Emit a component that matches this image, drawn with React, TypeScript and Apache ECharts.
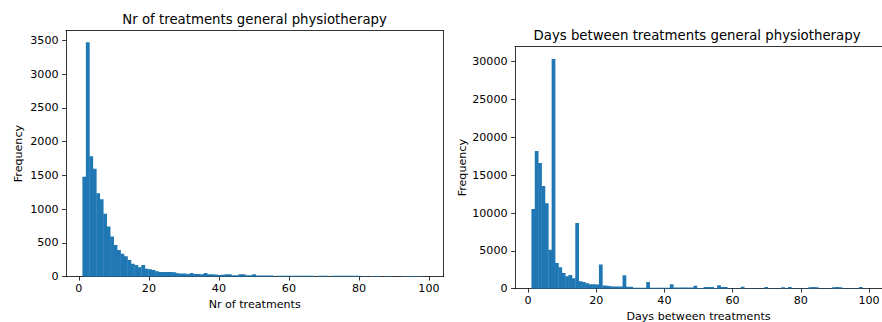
import React, { useEffect, useRef } from "react";
import * as echarts from "echarts";

// Histogram 1: Nr of treatments (bins for values 1..100)
const leftBinMin = 1;
const leftBinMax = 100;
const leftCounts = [
  1481, 3470, 1782, 1599, 1234, 1145, 933, 745, 597, 469,
  395, 340, 301, 247, 190, 173, 140, 173, 116, 112,
  99, 80, 70, 70, 68, 68, 66, 50, 49, 48,
  40, 54, 40, 40, 38, 54, 36, 35, 34, 25,
  30, 35, 35, 22, 22, 35, 35, 20, 20, 35,
  18, 18, 17, 17, 16, 0, 15, 15, 15, 15,
  15, 15, 15, 15, 15, 15, 14, 0, 14, 14,
  14, 0, 13, 13, 13, 13, 13, 13, 13, 13,
  0, 10, 0, 12, 12, 12, 0, 11, 11, 0,
  0, 0, 10, 10, 10, 10, 10, 10, 0, 0,
];

// Histogram 2: Days between treatments (bins for values 1..100)
const rightBinMin = 1;
const rightBinMax = 100;
const rightCounts = [
  10530, 18194, 16608, 13568, 11278, 5154, 30352, 3392, 2819, 2070,
  1630, 1806, 1366, 8678, 969, 881, 705, 573, 573, 560,
  3210, 420, 400, 308, 300, 300, 300, 1761, 264, 264,
  132, 132, 132, 132, 880, 132, 132, 132, 132, 132,
  132, 573, 150, 150, 150, 150, 150, 150, 400, 100,
  100, 230, 230, 230, 100, 440, 220, 220, 30, 30,
  30, 30, 264, 30, 30, 30, 30, 30, 30, 220,
  30, 30, 30, 30, 200, 30, 220, 30, 30, 30,
  30, 30, 200, 220, 200, 30, 30, 30, 30, 200,
  220, 200, 30, 30, 30, 30, 30, 220, 30, 30,
];

const xTicks = [0, 20, 40, 60, 80, 100];
const leftYTicks = [0, 500, 1000, 1500, 2000, 2500, 3000, 3500];
const rightYTicks = [0, 5000, 10000, 15000, 20000, 25000, 30000];

const leftTitle = "Nr of treatments general physiotherapy";
const rightTitle = "Days between treatments general physiotherapy";
const leftXName = "Nr of treatments";
const rightXName = "Days between treatments";
const yName = "Frequency";

const FONT = "DejaVu Sans";
const BAR = "#1f77b4";
const INK = "#000000";
const SMALL = 11.1;
const BIG = 13.3;

function toBins(counts: number[], lo: number, hi: number) {
  const w = (hi - lo) / counts.length;
  return counts.map((c, i) => [lo + w * i, lo + w * (i + 1), c]);
}

const renderBar = (params: any, api: any) => {
  const x0 = api.value(0);
  const x1 = api.value(1);
  const v = api.value(2);
  const p0 = api.coord([x0, v]);
  const p1 = api.coord([x1, 0]);
  return {
    type: "rect",
    shape: { x: p0[0], y: p0[1], width: p1[0] - p0[0] + 0.35, height: p1[1] - p0[1] },
    style: { fill: BAR },
  };
};

const plain = (v: number) => String(v);
const labelStyle = { fontFamily: FONT, fontSize: SMALL, color: INK, formatter: plain };
const nameStyle = { fontFamily: FONT, fontSize: SMALL, color: INK };
const lineStyle = { color: INK, width: 0.8 };

function bottomX(gridIndex: number, min: number, max: number, name: string, gap: number) {
  return {
    type: "value",
    gridIndex,
    position: "bottom",
    min,
    max,
    name,
    nameLocation: "middle",
    nameGap: gap,
    nameTextStyle: nameStyle,
    axisLine: { show: true, onZero: false, lineStyle },
    axisTick: { show: true, length: 3.9, customValues: xTicks, lineStyle },
    axisLabel: { ...labelStyle, margin: 6, customValues: xTicks, hideOverlap: false },
    splitLine: { show: false },
  };
}

function topX(gridIndex: number, min: number, max: number) {
  return {
    type: "value",
    gridIndex,
    position: "top",
    min,
    max,
    axisLine: { show: true, onZero: false, lineStyle },
    axisTick: { show: false },
    axisLabel: { show: false },
    splitLine: { show: false },
  };
}

function leftY(gridIndex: number, max: number, ticks: number[], gap: number) {
  return {
    type: "value",
    gridIndex,
    position: "left",
    min: 0,
    max,
    name: yName,
    nameLocation: "middle",
    nameGap: gap,
    nameRotate: 90,
    nameTextStyle: nameStyle,
    axisLine: { show: true, onZero: false, lineStyle },
    axisTick: { show: true, length: 3.9, customValues: ticks, lineStyle },
    axisLabel: { ...labelStyle, margin: 7.5, customValues: ticks },
    splitLine: { show: false },
  };
}

export default function App() {
  const ref = useRef<HTMLDivElement>(null);

  useEffect(() => {
    if (!ref.current) return;
    const chart = echarts.init(ref.current, undefined, { renderer: "svg" });

    const lMin = -3.686;
    const lMax = 104.1;
    const rMin = -3.81;
    const rMax = 103.8;

    chart.setOption({
      animation: false,
      backgroundColor: "#ffffff",
      grid: [
        { left: 66, top: 30.5, width: 377.3, height: 246.2, containLabel: false, outerBoundsMode: "none" },
        { left: 515, top: 46.7, width: 367, height: 242, containLabel: false, outerBoundsMode: "none" },
      ],
      xAxis: [
        bottomX(0, lMin, lMax, leftXName, 21),
        topX(0, lMin, lMax),
        bottomX(1, rMin, rMax, rightXName, 22),
        topX(1, rMin, rMax),
      ],
      yAxis: [
        leftY(0, 3645, leftYTicks, 42),
        {
          type: "value",
          gridIndex: 0,
          position: "right",
          min: 0,
          max: 3645,
          axisLine: { show: true, onZero: false, lineStyle },
          axisTick: { show: false },
          axisLabel: { show: false },
          splitLine: { show: false },
        },
        leftY(1, 31982, rightYTicks, 46.5),
      ],
      graphic: [
        {
          type: "text",
          x: 254.6,
          y: 19.5,
          style: {
            text: leftTitle,
            fontFamily: FONT,
            fontSize: BIG,
            fill: INK,
            textAlign: "center",
            textVerticalAlign: "middle",
          },
        },
        {
          type: "text",
          x: 697,
          y: 35.7,
          style: {
            text: rightTitle,
            fontFamily: FONT,
            fontSize: BIG,
            fill: INK,
            textAlign: "center",
            textVerticalAlign: "middle",
          },
        },
      ],
      series: [
        {
          type: "custom",
          xAxisIndex: 0,
          yAxisIndex: 0,
          renderItem: renderBar,
          encode: { x: [0, 1], y: 2 },
          data: toBins(leftCounts, leftBinMin, leftBinMax),
          clip: true,
        },
        {
          type: "custom",
          xAxisIndex: 2,
          yAxisIndex: 2,
          renderItem: renderBar,
          encode: { x: [0, 1], y: 2 },
          data: toBins(rightCounts, rightBinMin, rightBinMax),
          clip: true,
        },
      ],
    });

    return () => chart.dispose();
  }, []);

  return (
    <div
      ref={ref}
      style={{ position: "fixed", left: 0, top: 0, width: 882, height: 322, background: "#fff" }}
    />
  );
}
